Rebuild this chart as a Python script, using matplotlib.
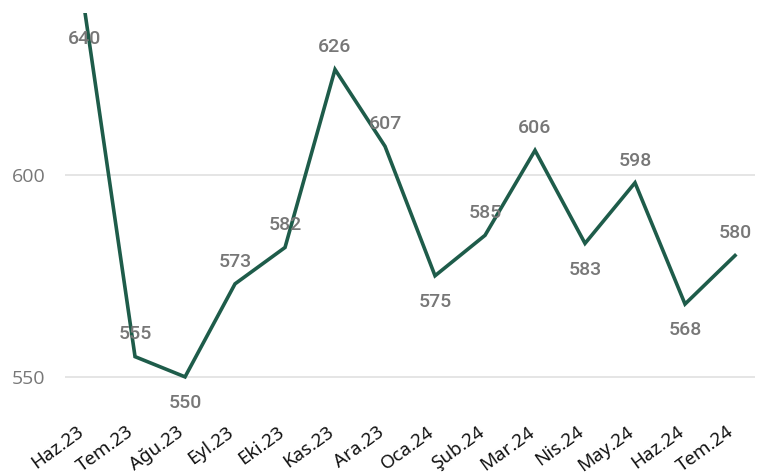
import matplotlib.pyplot as plt

# ---------------------------------------------------------------------------
# Data
# ---------------------------------------------------------------------------
months = ["Haz.23", "Tem.23", "Ağu.23", "Eyl.23", "Eki.23", "Kas.23", "Ara.23",
          "Oca.24", "Şub.24", "Mar.24", "Nis.24", "May.24", "Haz.24", "Tem.24"]
values = [640, 555, 550, 573, 582, 626, 607, 575, 585, 606, 583, 598, 568, 580]
label_below = [True, False, True, False, False, False, False,
               True, False, False, True, False, True, False]
yticks = [550, 600]

LINE = "#1E5C4A"
GRAY = "#777777"

fig = plt.figure(figsize=(7.77, 4.76), dpi=100)
ax = fig.add_axes([0.0837, 0.170, 0.888, 0.803])

x = list(range(len(months)))
ax.plot(x, values, color=LINE, linewidth=2.6, solid_joinstyle="miter")

# data labels
for xi, v, below in zip(x, values, label_below):
    dy = -19 if below else 16
    ax.annotate(str(v), (xi, v), xytext=(0, dy), textcoords="offset points",
                ha="center", va="center", color=GRAY, fontsize=14,
                family="Roboto", fontweight="medium", annotation_clip=False)

ax.set_xlim(-0.4, 13.4)
ax.set_ylim(545.5, 640)
ax.set_yticks(yticks)
ax.set_xticks(x)
ax.set_xticklabels([])

# category labels, drawn by hand so they can sit a little left of the tick
xtrans = ax.get_xaxis_transform()
for xi, m in zip(x, months):
    ax.annotate(m, (xi, 0), xycoords=xtrans, xytext=(-6, -20),
                textcoords="offset points", rotation=36, rotation_mode="anchor",
                ha="right", va="top", family="Noto Sans", fontsize=13.5,
                color="#111111", annotation_clip=False)

for lbl in ax.get_yticklabels():
    lbl.set_family("Open Sans")
    lbl.set_fontsize(14)
    lbl.set_color(GRAY)

ax.grid(axis="y", color="#E0E0E0", linewidth=1.2)
ax.set_axisbelow(True)
ax.tick_params(length=0)
ax.tick_params(axis="y", pad=14)
for s in ax.spines.values():
    s.set_visible(False)

fig.savefig("out.png", dpi=100)
